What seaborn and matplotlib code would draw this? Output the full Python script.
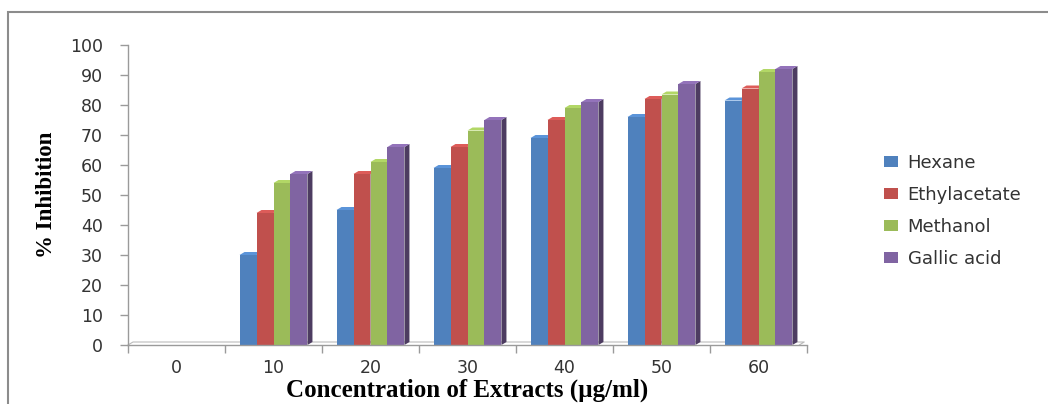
import matplotlib
matplotlib.use("Agg")
import matplotlib.pyplot as plt
from matplotlib.patches import Polygon, Rectangle
from matplotlib.colors import to_rgb
import seaborn as sns
import pandas as pd

# Concentrations (µg/ml) and % inhibition of each extract
concentrations = ["0", "10", "20", "30", "40", "50", "60"]
hexane = [0, 30, 45, 59, 69, 76, 81.5]
ethylacetate = [0, 44, 57, 66, 75, 82, 85.5]
methanol = [0, 54, 61, 71.5, 79, 83.5, 91]
gallic_acid = [0, 57, 66, 75, 81, 87, 92]

series_names = ["Hexane", "Ethylacetate", "Methanol", "Gallic acid"]
series_values = [hexane, ethylacetate, methanol, gallic_acid]
colors = ["#4F81BD", "#C0504D", "#9BBB59", "#8064A2"]

rows = []
for name, vals in zip(series_names, series_values):
    for c, v in zip(concentrations, vals):
        rows.append({"conc": c, "extract": name, "inhibition": v})
df = pd.DataFrame(rows)

sns.set_style("white")
plt.rcParams["font.family"] = ["DejaVu Sans"]

fig = plt.figure(figsize=(10.48, 4.04), dpi=100)
ax = fig.add_axes([128 / 1048, 1 - 345 / 404, 679 / 1048, 300 / 404])

sns.barplot(data=df, x="conc", y="inhibition", hue="extract",
            order=concentrations, hue_order=series_names,
            palette=colors, width=0.7, saturation=1, ax=ax,
            linewidth=0, legend=True)

ax.set_xlim(-0.5, 6.5)
ax.set_ylim(0, 100)
ax.set_yticks(range(0, 101, 10))

# 3-D look: darker side face and lighter top face on every bar
fig.canvas.draw()
px = ax.transData.inverted()
x0d, y0d = px.transform((0, 0))
x1d, y1d = px.transform((5, 3))
ddx, ddy = x1d - x0d, y1d - y0d
for patch in list(ax.patches):
    h = patch.get_height()
    if h <= 0:
        continue
    x, y, w = patch.get_x(), patch.get_y(), patch.get_width()
    r, g, b = to_rgb(patch.get_facecolor())
    dark = (r * 0.6, g * 0.6, b * 0.6)
    light = (min(1, r * 1.15), min(1, g * 1.15), min(1, b * 1.15))
    side = Polygon([(x + w, y), (x + w + ddx, y + ddy), (x + w + ddx, y + h + ddy),
                    (x + w, y + h)], closed=True, facecolor=dark, edgecolor="none",
                   zorder=patch.get_zorder() - 0.1)
    top = Polygon([(x, y + h), (x + ddx, y + h + ddy), (x + w + ddx, y + h + ddy),
                   (x + w, y + h)], closed=True, facecolor=light, edgecolor="none",
                  zorder=patch.get_zorder() - 0.1)
    ax.add_patch(side)
    ax.add_patch(top)

# floor edge of the 3-D chart
ax.plot([-0.5, -0.5 + ddx, 6.5 - 0.08 + ddx, 6.5 - 0.08],
        [0, ddy, ddy, 0], color="#BBBBBB", lw=0.8, clip_on=False, zorder=0.5)

for s in ["top", "right"]:
    ax.spines[s].set_visible(False)
for s in ["left", "bottom"]:
    ax.spines[s].set_color("#9A9A9A")
    ax.spines[s].set_linewidth(1.0)

ax.tick_params(axis="y", which="major", direction="out", length=6, width=1,
               color="#9A9A9A", labelsize=12.5, labelcolor="#333333", pad=12, left=True)
ax.tick_params(axis="x", which="major", length=0, labelsize=12.5,
               labelcolor="#333333", pad=10)
ax.set_xticks([i + 0.5 for i in range(-1, 7)], minor=True)
ax.tick_params(axis="x", which="minor", direction="out", length=6, width=1,
               color="#9A9A9A", bottom=True)

ax.set_xlabel("Concentration of Extracts (µg/ml)", family="Liberation Serif",
              fontweight="bold", fontsize=18, labelpad=1, color="black")
ax.set_ylabel("% Inhibition", family="Liberation Serif", fontweight="bold",
              fontsize=16.5, labelpad=9, color="black")

handles, labels = ax.get_legend_handles_labels()
ax.legend(handles, labels, loc="center left", bbox_to_anchor=(868 / 1048, 1 - 211 / 404),
          bbox_transform=fig.transFigure, frameon=False, fontsize=13,
          labelcolor="#333333", handlelength=0.75, handleheight=0.55,
          labelspacing=0.78, handletextpad=0.55)

# chart frame
fig.patches.append(Rectangle((8 / 1048, -0.1), 1.2, 1 - 12 / 404 + 0.1,
                             transform=fig.transFigure, fill=False,
                             edgecolor="#8C8C8C", lw=1.5))

fig.savefig("out.png", dpi=100)
